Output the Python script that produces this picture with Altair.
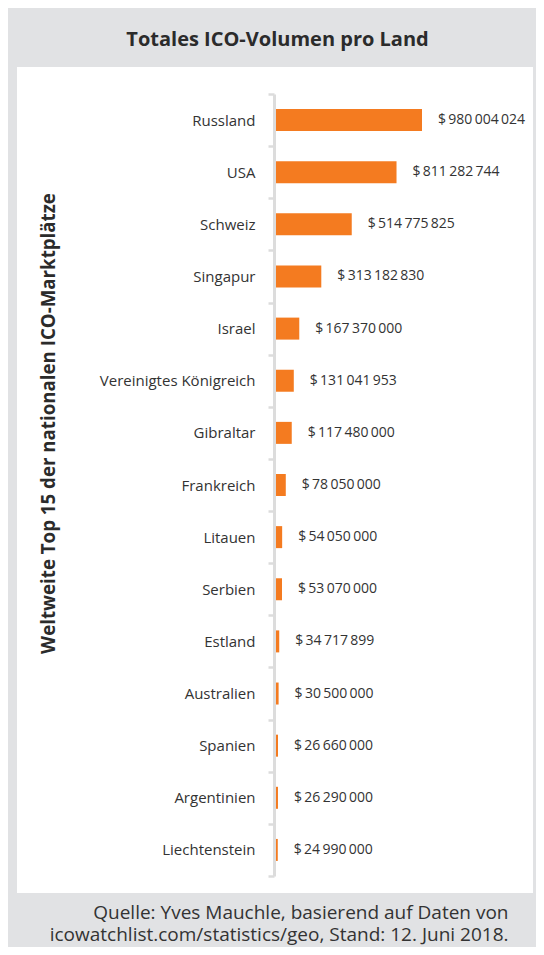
import altair as alt
import pandas as pd

countries = ["Russland", "USA", "Schweiz", "Singapur", "Israel",
             "Vereinigtes Königreich", "Gibraltar", "Frankreich", "Litauen",
             "Serbien", "Estland", "Australien", "Spanien", "Argentinien",
             "Liechtenstein"]
volumes = [980004024, 811282744, 514775825, 313182830, 167370000,
           131041953, 117480000, 78050000, 54050000, 53070000,
           34717899, 30500000, 26660000, 26290000, 24990000]

title_text = "Totales ICO-Volumen pro Land"
y_title = "Weltweite Top 15 der nationalen ICO-Marktplätze"
source_lines = ["Quelle: Yves Mauchle, basierend auf Daten von",
                "icowatchlist.com/statistics/geo, Stand: 12. Juni 2018."]

labels = ["$\u2009" + f"{v:,}".replace(",", "\u2009") for v in volumes]
df = pd.DataFrame({"Land": countries, "Volumen": volumes, "Label": labels})

FONT = "Open Sans"
W, H = 516, 826
ORANGE = "#f47b20"
GRAY_BG = "#e1e2e4"
AXIS_GRAY = "#dcdcdc"
DARK = "#2b2b2b"

x_scale = alt.Scale(domain=[0, max(volumes)], range=[257, 405], nice=False, zero=True)
y_scale = alt.Scale(domain=countries, range=[27, 809], paddingInner=0, paddingOuter=0)

# bottom x axis: carries only the source note
x_axis_bottom = alt.Axis(title=source_lines, orient="bottom", domain=False, ticks=False,
                         labels=False, grid=False, titleFont=FONT, titleFontSize=19,
                         titleFontWeight="normal", titleColor="#333333",
                         titleAlign="right", titleX=491, titleY=25,
                         titleBaseline="alphabetic", titleLineHeight=22)
# top x axis: carries only the chart title
x_axis_top = alt.Axis(title=title_text, orient="top", domain=False, ticks=False,
                      labels=False, grid=False, titleFont=FONT, titleFontSize=20,
                      titleFontWeight="bold", titleColor=DARK, titleAlign="center",
                      titleX=260, titleY=-22, titleBaseline="alphabetic")
y_axis = alt.Axis(title=y_title, offset=-257, tickBand="extent", domainColor=AXIS_GRAY,
                  domainWidth=3, tickColor=AXIS_GRAY, tickWidth=2.5, tickSize=6,
                  labelFont=FONT, labelFontSize=15, labelColor="#333333", labelPadding=13,
                  titleFont=FONT, titleFontSize=18.7, titleFontWeight="bold",
                  titleColor=DARK, titleX=-226, titleY=356, titleBaseline="middle",
                  titleAlign="center", zindex=1, grid=False)

base = alt.Chart(df)
bars = base.mark_bar(color=ORANGE, size=22).encode(
    x=alt.X("Volumen:Q", scale=x_scale, axis=x_axis_bottom),
    y=alt.Y("Land:N", scale=y_scale, axis=y_axis),
)
text = base.mark_text(align="left", baseline="middle", dx=16, font=FONT,
                      fontSize=14, color="#333333").encode(
    x=alt.X("Volumen:Q", scale=x_scale, axis=x_axis_top),
    y=alt.Y("Land:N", scale=y_scale, axis=y_axis),
    text="Label:N",
)

chart = alt.layer(bars, text).resolve_axis(x="independent").properties(
    width=W, height=H,
    background=GRAY_BG,
    padding={"left": 9, "top": 59, "right": 3, "bottom": 54},
    autosize=alt.AutoSizeParams(type="none"),
).configure_view(fill="white", strokeWidth=0)

chart.save("out.html", embed_options={"renderer": "svg", "actions": False})
